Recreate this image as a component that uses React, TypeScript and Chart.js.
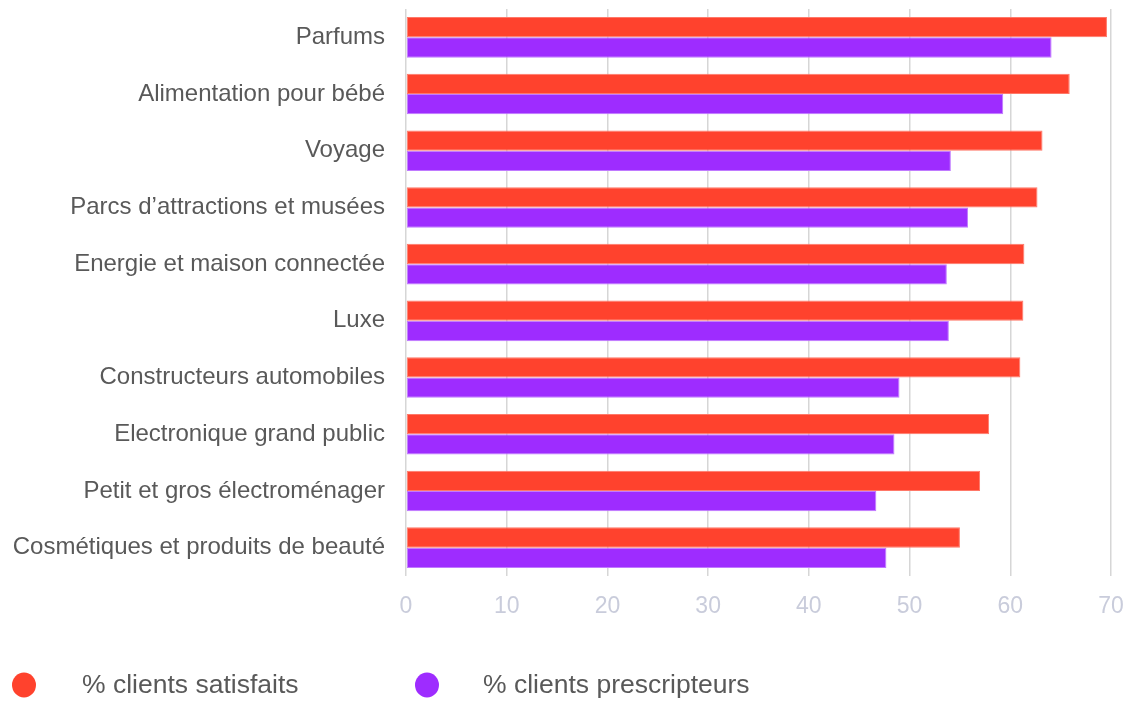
import React, { useEffect, useRef } from "react";
import { Chart, registerables } from "chart.js";

Chart.register(...registerables);

const categories = [
  "Parfums",
  "Alimentation pour bébé",
  "Voyage",
  "Parcs d\u2019attractions et musées",
  "Energie et maison connectée",
  "Luxe",
  "Constructeurs automobiles",
  "Electronique grand public",
  "Petit et gros électroménager",
  "Cosmétiques et produits de beauté",
];

const satisfaits = [69.6, 65.9, 63.2, 62.7, 61.4, 61.3, 61.0, 57.9, 57.0, 55.0];
const prescripteurs = [64.1, 59.3, 54.1, 55.8, 53.7, 53.9, 49.0, 48.5, 46.7, 47.7];

const seriesLabels = ["% clients satisfaits", "% clients prescripteurs"];
const xTicks = [0, 10, 20, 30, 40, 50, 60, 70];

const RED = "#ff422d";
const PURPLE = "#9e2cff";
const FONT = "'Liberation Sans', Arial, sans-serif";

const legendPlugin = {
  id: "customLegend",
  afterDraw(chart: any) {
    const ctx = chart.ctx;
    const y = 685;
    const items = [
      { cx: 24, tx: 82 },
      { cx: 427, tx: 483 },
    ];
    ctx.save();
    chart.data.datasets.forEach((ds: any, i: number) => {
      const it = items[i];
      if (!it) return;
      ctx.beginPath();
      ctx.fillStyle = ds.backgroundColor;
      ctx.ellipse(it.cx, y, 12, 12.5, 0, 0, Math.PI * 2);
      ctx.fill();
      ctx.fillStyle = "#595959";
      ctx.font = `26.5px ${FONT}`;
      ctx.textBaseline = "middle";
      ctx.textAlign = "left";
      ctx.fillText(ds.label, it.tx, y + 1);
    });
    ctx.restore();
  },
};

export default function App() {
  const ref = useRef<HTMLCanvasElement | null>(null);

  useEffect(() => {
    if (!ref.current) return;
    const chart = new Chart(ref.current, {
      type: "bar",
      data: {
        labels: categories,
        datasets: [
          {
            label: seriesLabels[0],
            data: satisfaits,
            backgroundColor: RED,
            borderColor: "#ff7868",
            borderWidth: 1,
            borderSkipped: false,
          },
          {
            label: seriesLabels[1],
            data: prescripteurs,
            backgroundColor: PURPLE,
            borderColor: "#c07aff",
            borderWidth: 1,
            borderSkipped: false,
          },
        ],
      },
      options: {
        indexAxis: "y",
        animation: false,
        responsive: true,
        maintainAspectRatio: false,
        layout: { padding: { top: 9, right: 16, bottom: 90, left: 0 } },
        datasets: {
          bar: { categoryPercentage: 0.716, barPercentage: 1 },
        },
        plugins: {
          legend: { display: false },
          tooltip: { enabled: false },
        },
        scales: {
          x: {
            min: 0,
            max: 70,
            afterBuildTicks: (scale: any) => {
              scale.ticks = xTicks.map((v) => ({ value: v }));
            },
            afterFit: (scale: any) => {
              scale.height = 38;
              scale.paddingLeft = 0;
              scale.paddingRight = 0;
            },
            grid: {
              color: "#d6d6d6",
              lineWidth: 1.5,
              drawTicks: false,
            },
            border: { display: false },
            ticks: {
              color: "#c9ccdb",
              font: { family: FONT, size: 23 },
              padding: 17,
            },
          },
          y: {
            afterFit: (scale: any) => {
              scale.width = 406;
              scale.paddingTop = 0;
              scale.paddingBottom = 0;
            },
            grid: { display: false, drawTicks: false },
            border: { display: false },
            ticks: {
              color: "#595959",
              font: { family: FONT, size: 24 },
              padding: 21,
            },
          },
        },
      },
      plugins: [legendPlugin],
    });
    return () => chart.destroy();
  }, []);

  return (
    <div style={{ position: "absolute", left: 0, top: 0, width: 1127, height: 704 }}>
      <canvas ref={ref} />
    </div>
  );
}
